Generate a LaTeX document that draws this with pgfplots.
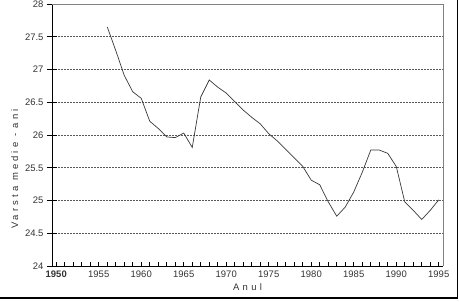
\documentclass[border=0pt]{standalone}
\usepackage{fontspec}
\setmainfont{Liberation Sans}
\usepackage{pgfplots}
\pgfplotsset{compat=1.18}
\begin{document}
\begin{tikzpicture}
\begin{axis}[name=ax, at={(0,0)}, anchor=south west,
  width=391bp, height=262bp, scale only axis,
  xmin=1949.5, xmax=1995.5, ymin=24, ymax=28,
  axis x line*=bottom, axis y line*=left,
  axis line style={black, line width=0.8bp, -},
  font=\fontsize{9.5}{11}\selectfont,
  /pgf/number format/assume math mode=true,
  xtick={1950,1955,...,1995},
  xticklabels={\textbf{1950},1955,1960,1965,1970,1975,1980,1985,1990,1995},
  minor xtick={1950,1951,...,1995},
  major x tick style={draw=none},
  minor x tick style={black, line width=0.6bp},
  minor tick length=3.5bp,
  ytick={24,24.5,...,28},
  major tick length=10bp,
  y tick style={xshift=-5bp, black, line width=0.6bp},
  ymajorgrids,
  major grid style={dash pattern=on 1.5bp off 1.5bp, gray!70!black, line width=0.6bp},
  yticklabel style={xshift=-5bp, text=black!80},
  xticklabel style={yshift=-1bp, text=black!80},
  xlabel={\addfontfeature{LetterSpace=35}Anul},
  ylabel={\addfontfeature{LetterSpace=33}Varsta medie - ani},
  every axis x label/.style={at={(axis description cs:0.5,-0.08)}, anchor=center, text=black!80},
  every axis y label/.style={at={(axis description cs:-0.095,0.37)}, anchor=center, rotate=90, text=black!80},
  clip=false,
]
\addplot[gray!45!black, line width=0.7bp, mark=none] coordinates {
(1956,27.65) (1957,27.29) (1958,26.91) (1959,26.66) (1960,26.56)
(1961,26.21) (1962,26.10) (1963,25.97) (1964,25.96) (1965,26.03)
(1966,25.81) (1967,26.58) (1968,26.84) (1969,26.73) (1970,26.64)
(1971,26.51) (1972,26.38) (1973,26.27) (1974,26.17) (1975,26.02)
(1976,25.91) (1977,25.78) (1978,25.65) (1979,25.52) (1980,25.31)
(1981,25.24) (1982,24.98) (1983,24.76) (1984,24.90) (1985,25.13)
(1986,25.43) (1987,25.77) (1988,25.77) (1989,25.72) (1990,25.52)
(1991,24.98) (1992,24.85) (1993,24.71) (1994,24.85) (1995,25.01)
};
\end{axis}
\pgfresetboundingbox
\path[use as bounding box] ([xshift=-52bp,yshift=-36bp]ax.south west) rectangle ([xshift=16bp,yshift=4bp]ax.north east);
\draw[gray, line width=0.8bp] (ax.north west) -- (ax.north east) -- (ax.south east);
\draw[black, line width=1.4bp] ([xshift=-60bp,yshift=-32bp]ax.south west) -- ([xshift=14.5bp,yshift=-32bp]ax.south east) -- ([xshift=14.5bp,yshift=10bp]ax.north east);
\end{tikzpicture}
\end{document}
